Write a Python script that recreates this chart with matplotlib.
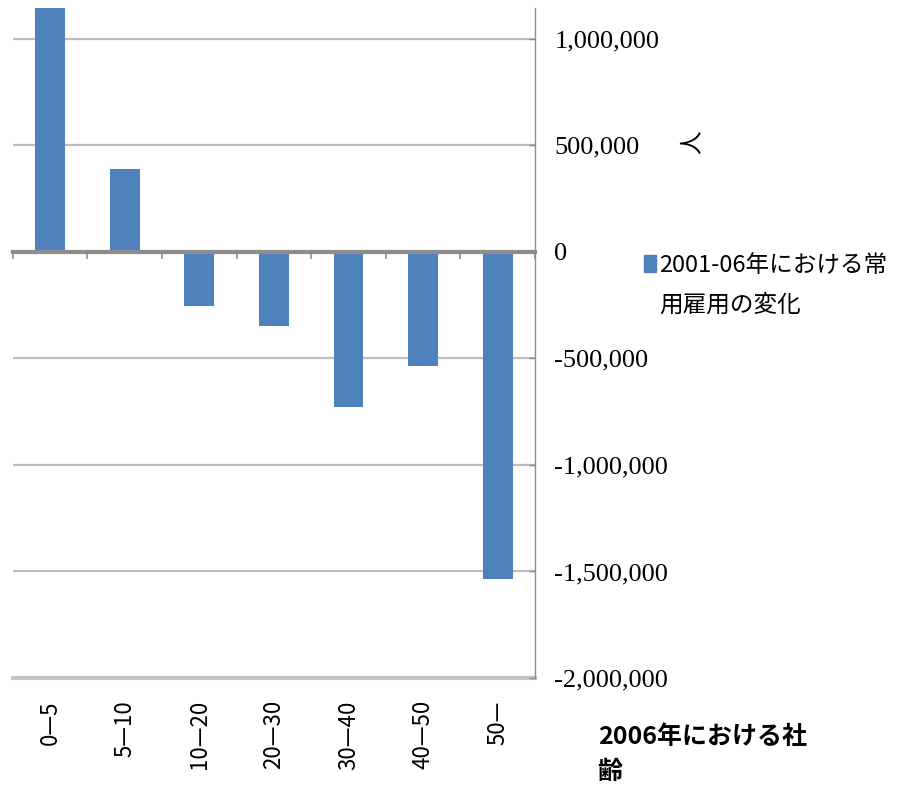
import matplotlib
matplotlib.use("Agg")
import matplotlib.pyplot as plt
from matplotlib.patches import Patch
from matplotlib.ticker import FuncFormatter, FixedLocator
import numpy as np

categories = ["0—5", "5—10", "10—20", "20—30", "30—40", "40—50", "50—"]
values = [1250000, 388000, -254000, -348000, -728000, -536000, -1533000]
yticks = [-2000000, -1500000, -1000000, -500000, 0, 500000, 1000000]
legend_lines = ["2001-06年における常", "用雇用の変化"]
xlabel = "2006年における社\n齢"
ylabel = "人"

BAR = "#4F81BD"
GRID = "#BEBEBE"
AX = "#8C8C8C"
CJK = ["Noto Sans CJK JP", "DejaVu Sans"]

W, H = 898, 791
fig = plt.figure(figsize=(W / 100, H / 100), dpi=100)
left, right, top, bottom = 12.7, 535, 8, 678
ax = fig.add_axes([left / W, 1 - bottom / H, (right - left) / W, (bottom - top) / H])

x = np.arange(len(categories))
ax.bar(x, values, width=0.4, color=BAR, zorder=2)
ax.set_xlim(-0.5, len(categories) - 0.5)
ax.set_ylim(-2000000, 1145000)

# gridlines
ax.set_yticks(yticks)
ax.yaxis.grid(True, color=GRID, linewidth=1.6, zorder=0)
ax.set_axisbelow(True)

# y axis on right
ax.yaxis.tick_right()
ax.yaxis.set_label_position("right")
ax.yaxis.set_major_formatter(FuncFormatter(lambda v, p: f"{int(v):,}".replace("−", "-")))
ax.tick_params(axis="y", direction="in", length=4, width=1, color=AX, pad=14,
               labelsize=19, labelcolor="black")
for lab in ax.get_yticklabels():
    lab.set_family("Liberation Serif")

ax.spines["left"].set_visible(False)
ax.spines["top"].set_visible(False)
ax.spines["right"].set_color(AX)
ax.spines["right"].set_linewidth(1.0)

# zero line as bottom spine with boundary ticks
ax.spines["bottom"].set_position(("data", 0))
ax.spines["bottom"].set_color(AX)
ax.spines["bottom"].set_linewidth(3)
ax.spines["bottom"].set_zorder(3)
ax.set_xticks([])
ax.xaxis.set_minor_locator(FixedLocator(np.arange(len(categories) + 1) - 0.5))
ax.tick_params(axis="x", which="minor", direction="out", length=5, width=1.2, color=AX)

# category labels at bottom via secondary axis
sec = ax.secondary_xaxis("bottom")
sec.set_xticks(x)
sec.set_xticklabels(categories, rotation=90, fontsize=16, family=CJK)
sec.tick_params(axis="x", length=0, pad=16)
sec.spines["bottom"].set_color("#C8C8C8")
sec.spines["bottom"].set_linewidth(3)

ax.set_xlabel(xlabel, fontsize=18, family=CJK, fontweight="bold", ha="left", va="top",
              linespacing=1.6)
ax.xaxis.set_label_coords(1.12, -0.070)

ax.set_ylabel(ylabel, fontsize=17, family=CJK, rotation=90, va="center", ha="center")
ax.yaxis.set_label_coords(1.30, 0.80)

handles = [Patch(color=BAR), Patch(color="none")]
fig.legend(handles, legend_lines, loc="upper left",
           bbox_to_anchor=(644 / W, 1 - 254 / H), frameon=False,
           prop={"family": CJK, "size": 17}, handlelength=0.5, handleheight=0.7,
           handletextpad=0.15, borderpad=0, borderaxespad=0, labelspacing=0.7)

fig.savefig("out.png", dpi=100, facecolor="white")
